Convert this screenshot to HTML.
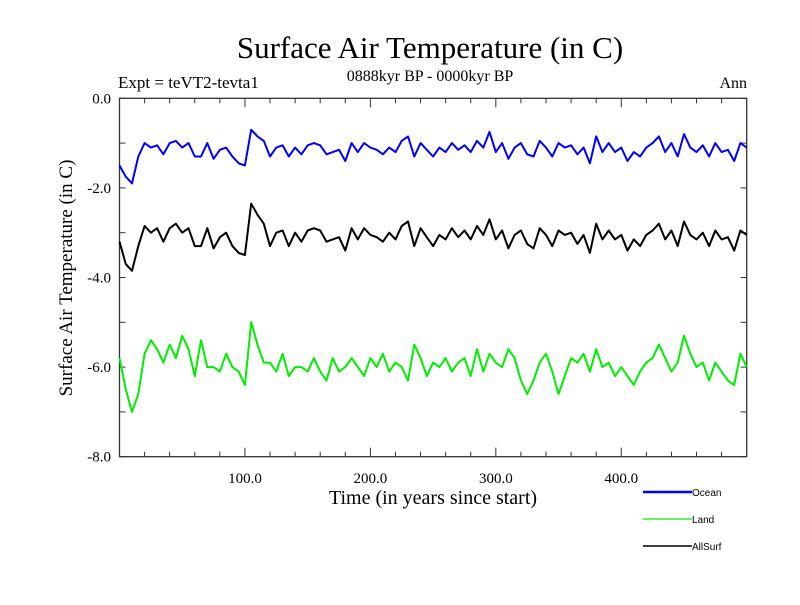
<!DOCTYPE html>
<html><head><meta charset="utf-8"><style>
body{margin:0;background:#fff}
svg text{font-family:"Liberation Serif",serif}
</style></head><body>
<svg id="chart" width="800" height="600">
<text x="430" y="58" font-size="31" text-anchor="middle">Surface Air Temperature (in C)</text>
<text x="118" y="88" font-size="17">Expt = teVT2-tevta1</text>
<text x="430" y="81" font-size="16" text-anchor="middle">0888kyr BP - 0000kyr BP</text>
<text x="747" y="88" font-size="16" text-anchor="end">Ann</text>
<text transform="translate(72,278) rotate(-90)" font-size="19" text-anchor="middle">Surface Air Temperature (in C)</text>
<text x="433" y="504" font-size="20" text-anchor="middle">Time (in years since start)</text>
<g id="axes"></g>
<g id="series"></g>
<g id="legend"></g>
</svg>
<script>
const years=[];for(let y=0;y<=500;y+=5)years.push(y);
const ocean=[-1.5,-1.75,-1.9,-1.3,-1.0,-1.1,-1.05,-1.25,-1.0,-0.95,-1.1,-1.0,-1.3,-1.3,-1.0,-1.35,-1.15,-1.1,-1.3,-1.45,-1.5,-0.7,-0.85,-0.95,-1.3,-1.1,-1.05,-1.3,-1.1,-1.25,-1.05,-1.0,-1.05,-1.25,-1.2,-1.15,-1.4,-1.0,-1.2,-1.0,-1.1,-1.15,-1.25,-1.1,-1.2,-0.95,-0.85,-1.3,-1.0,-1.15,-1.3,-1.1,-1.2,-1.0,-1.15,-1.05,-1.2,-0.95,-1.1,-0.75,-1.2,-1.0,-1.35,-1.1,-1.0,-1.25,-1.3,-0.95,-1.1,-1.3,-1.0,-1.1,-1.05,-1.25,-1.1,-1.45,-0.85,-1.2,-1.0,-1.2,-1.1,-1.4,-1.2,-1.3,-1.1,-1.0,-0.85,-1.2,-1.0,-1.3,-0.8,-1.1,-1.2,-1.05,-1.3,-1.0,-1.2,-1.15,-1.4,-1.0,-1.1];
const allsurf=[-3.2,-3.7,-3.85,-3.3,-2.85,-3.0,-2.9,-3.2,-2.9,-2.8,-3.0,-2.9,-3.3,-3.3,-2.9,-3.35,-3.1,-3.0,-3.3,-3.45,-3.5,-2.35,-2.6,-2.8,-3.3,-3.0,-2.95,-3.3,-3.0,-3.2,-2.95,-2.9,-2.95,-3.2,-3.15,-3.1,-3.4,-2.9,-3.15,-2.9,-3.05,-3.1,-3.2,-3.0,-3.15,-2.85,-2.75,-3.3,-2.9,-3.1,-3.3,-3.05,-3.15,-2.9,-3.1,-2.95,-3.15,-2.85,-3.05,-2.7,-3.15,-2.95,-3.35,-3.05,-2.95,-3.25,-3.35,-2.9,-3.05,-3.3,-2.95,-3.05,-3.0,-3.25,-3.05,-3.45,-2.8,-3.15,-2.95,-3.15,-3.05,-3.4,-3.15,-3.3,-3.05,-2.95,-2.8,-3.15,-2.95,-3.3,-2.75,-3.05,-3.15,-3.0,-3.3,-2.95,-3.15,-3.1,-3.4,-2.95,-3.05];
const land=[-5.8,-6.5,-7.0,-6.6,-5.7,-5.4,-5.6,-5.9,-5.5,-5.8,-5.3,-5.6,-6.2,-5.4,-6.0,-6.0,-6.1,-5.7,-6.0,-6.1,-6.4,-5.0,-5.5,-5.9,-5.9,-6.1,-5.7,-6.2,-6.0,-6.0,-6.1,-5.8,-6.1,-6.3,-5.8,-6.1,-6.0,-5.8,-6.0,-6.2,-5.8,-6.0,-5.7,-6.1,-5.9,-6.0,-6.3,-5.5,-5.8,-6.2,-5.9,-6.0,-5.8,-6.1,-5.9,-5.8,-6.2,-5.6,-6.1,-5.7,-5.9,-6.0,-5.6,-5.8,-6.3,-6.6,-6.3,-5.9,-5.7,-6.1,-6.6,-6.2,-5.8,-5.9,-5.7,-6.1,-5.6,-6.0,-5.9,-6.2,-6.0,-6.2,-6.4,-6.1,-5.9,-5.8,-5.5,-5.8,-6.1,-5.9,-5.3,-5.7,-6.0,-5.9,-6.3,-5.9,-6.1,-6.3,-6.4,-5.7,-6.0];
const yTicks=[0,-1,-2,-3,-4,-5,-6,-7,-8];
const yLabels=["0.0","-2.0","-4.0","-6.0","-8.0"];
const xMajor=[100,200,300,400];
const xLabels=["100.0","200.0","300.0","400.0"];
const X0=119.5,X1=746.7,Y0=98.3,Y1=456.7;
const xs=v=>X0+(v-0)/(500-0)*(X1-X0);
const ys=v=>Y0+(0-v)/8*(Y1-Y0);
const NS="http://www.w3.org/2000/svg";
function mk(tag,attrs,parent){const e=document.createElementNS(NS,tag);for(const k in attrs)e.setAttribute(k,attrs[k]);parent.appendChild(e);return e;}
const ax=document.getElementById('axes');
let fr=mk('rect',{x:X0,y:Y0,width:X1-X0,height:Y1-Y0,fill:'none',stroke:'#333','stroke-width':1.3},ax);


yTicks.forEach((t,i)=>{
 const y=ys(t);
 let l=mk('line',{x1:X0,x2:X0+6,y1:y,y2:y,stroke:'#333'},ax);
 
 
 let r=mk('line',{x1:X1,x2:X1-6,y1:y,y2:y,stroke:'#333'},ax);
 
 
});
yLabels.forEach((s,i)=>{
 let t=mk('text',{x:111,y:ys(-2*i)+5,'font-size':15,'text-anchor':'end'},ax);t.textContent=s;
 
 
});
for(let v=20;v<500;v+=20){
 const maj=v%100===0,len=maj?9:5,x=xs(v);
 let a=mk('line',{x1:x,x2:x,y1:Y1,y2:Y1-len,stroke:'#333'},ax);
 
 
 let b=mk('line',{x1:x,x2:x,y1:Y0,y2:Y0+len,stroke:'#333'},ax);
 
 
}
xMajor.forEach((v,i)=>{
 let t=mk('text',{x:xs(v),y:483,'font-size':15,'text-anchor':'middle'},ax);t.textContent=xLabels[i];
 
 
});
const sg=document.getElementById('series');
[[ocean,'#0000ff','ocean-line'],[land,'#00ee00','land-line'],[allsurf,'#000000','allsurf-line']].forEach(([d,c,n])=>{
 const p=mk('polyline',{points:d.map((v,i)=>xs(years[i]).toFixed(1)+','+ys(v).toFixed(1)).join(' '),fill:'none',stroke:c,'stroke-width':2,'stroke-linejoin':'round'},sg);
 
 
});
const lg=document.getElementById('legend');
[['Ocean','#0000ff',492,2.5],['Land','#00ee00',519,1.3],['AllSurf','#000000',546,1.6]].forEach(([s,c,y,w])=>{
 const g=mk('g',{},lg);
 
 
 mk('line',{x1:643,x2:692,y1:y,y2:y,stroke:c,'stroke-width':w},g);
 const t=mk('text',{x:692,y:y+4,'font-size':10,style:'font-family:"Liberation Sans",sans-serif'},g);t.textContent=s;
});
</script>
</body></html>
